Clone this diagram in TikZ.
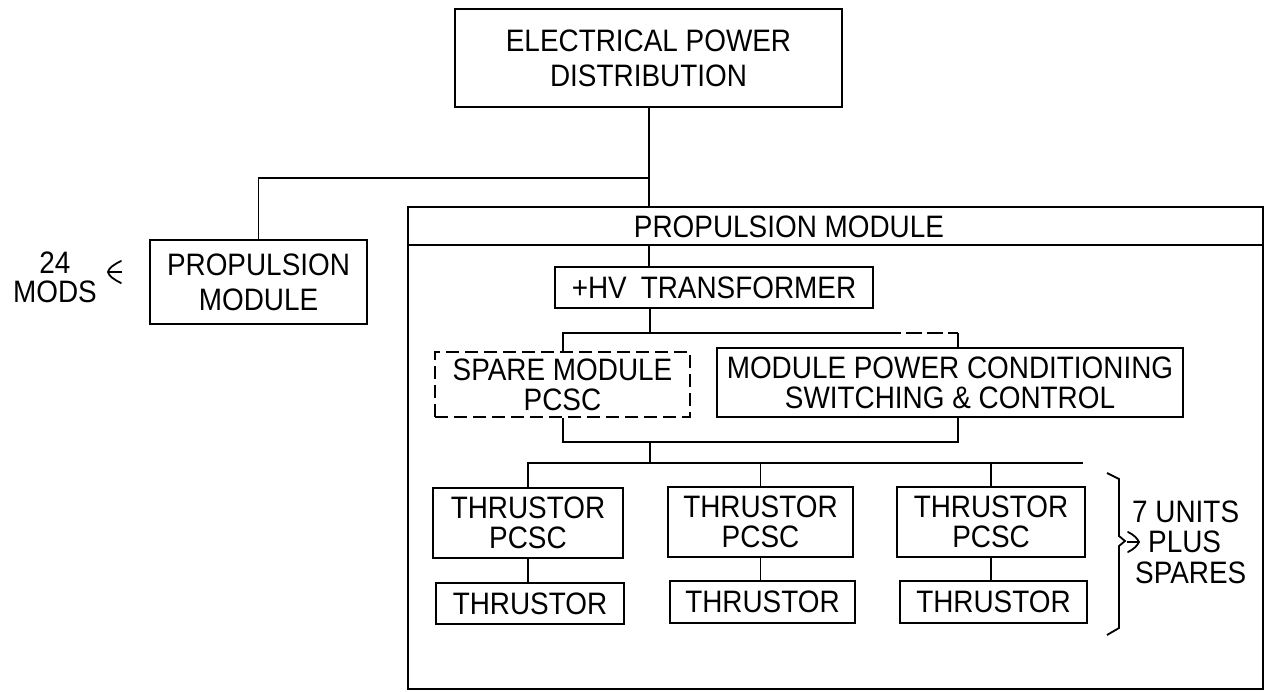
\documentclass[tikz,border=0pt]{standalone}
\usepackage{fontspec}
\setmainfont[FakeStretch=0.9]{Liberation Sans}
\usetikzlibrary{arrows.meta}
\newcommand\lbl{\fontsize{31}{34}\selectfont}
\begin{document}
\begin{tikzpicture}[x=1pt,y=-1pt,
  ln/.style={line width=1.8pt},
  blk/.style={draw, line width=1.8pt, align=center, inner sep=0pt, font=\lbl},
  txt/.style={align=center, inner sep=0pt, font=\lbl},
  barb/.style={line width=1.8pt, line cap=round}
]
\useasboundingbox (0,0) rectangle (1264,691);

% top
\node[blk, minimum width=387, minimum height=98] (epd) at (648.5,58) {ELECTRICAL POWER\\[1pt]DISTRIBUTION};

% left module
\node[blk, minimum width=217, minimum height=84] (pms) at (258.5,282) {PROPULSION\\[1pt]MODULE};
\node[txt] (mods) at (55,277) {24\\[-5pt]MODS};
\coordinate (ma) at (122,272);
\coordinate (mb) at (108,272);
\draw[ln] (ma) -- (mb);
\draw[barb] (121,261) .. controls (113,265) and (109,268) .. (mb) .. controls (109,276) and (113,279) .. (121,283);

% big module
\node[draw, line width=1.8pt, minimum width=855, minimum height=482, inner sep=0pt] (big) at (835.5,448) {};
\node[draw, line width=1.8pt, minimum width=855, minimum height=38, inner sep=0pt] (band) at (835.5,226) {};
\node[txt] (bigt) at (789,227) {PROPULSION MODULE};

\node[blk, minimum width=318, minimum height=41] (hv) at (714,287.5) {+HV\hspace{0.45em}TRANSFORMER};
\node[blk, dash pattern=on 13pt off 6pt, minimum width=255, minimum height=65] (spare) at (562.5,384.5) {SPARE MODULE\\[-4pt]PCSC};
\node[blk, minimum width=466, minimum height=69] (mpc) at (950,382.5) {MODULE POWER CONDITIONING\\[-4pt]SWITCHING \& CONTROL};

\node[blk, minimum width=190, minimum height=70] (tp1) at (528,523) {THRUSTOR\\[-4pt]PCSC};
\node[blk, minimum width=185, minimum height=70] (tp2) at (760.5,522) {THRUSTOR\\[-4pt]PCSC};
\node[blk, minimum width=188, minimum height=70] (tp3) at (991,522) {THRUSTOR\\[-4pt]PCSC};
\node[blk, minimum width=188, minimum height=41] (th1) at (530,603.5) {THRUSTOR};
\node[blk, minimum width=185, minimum height=42] (th2) at (762.5,602) {THRUSTOR};
\node[blk, minimum width=187, minimum height=42] (th3) at (993.5,602) {THRUSTOR};

% junction coordinates
\coordinate (mx) at (649,0);
\coordinate (j1) at (649,178);
\coordinate (j2) at (650,333);
\coordinate (j2l) at (563,333);
\coordinate (j2d) at (885,333);
\coordinate (j2r) at (958,333);
\coordinate (j3) at (650,442);
\coordinate (j3l) at (563,442);
\coordinate (j3r) at (958,442);
\coordinate (j4) at (650,463);
\coordinate (j4e) at (1083,463);

% connectors
\draw[ln] (epd.south -| mx) -- (band.north -| mx);
\draw[ln] (pms.north) |- (j1);
\draw[ln] (band.south -| mx) -- (hv.north -| mx);
\draw[ln] (hv.south -| j2) -- (j2);
\draw[ln] (spare.north -| j2l) |- (j2d);
\draw[ln, dash pattern=on 16pt off 5pt] (j2d) -- (j2r);
\draw[ln] (j2r) -- (mpc.north -| j2r);
\draw[ln] (spare.south -| j3l) |- (j3r) -- (mpc.south -| j3r);
\draw[ln] (j3) -- (j4);
\draw[ln] (tp1.north) |- (j4e);
\draw[ln] (tp2.north) -- (tp2.north |- j4e);
\draw[ln] (tp3.north) -- (tp3.north |- j4e);
\draw[ln] (tp1.south) -- (tp1.south |- th1.north);
\draw[ln] (tp2.south) -- (tp2.south |- th2.north);
\draw[ln] (tp3.south) -- (tp3.south |- th3.north);

% brace and note
\draw[ln, line join=miter] (1107,473) -- (1119,479) -- (1119,536) -- (1125,541) -- (1119,546) -- (1119,628) -- (1107,635);
\coordinate (ra) at (1127,542);
\coordinate (rb) at (1139,542);
\draw[ln] (ra) -- (rb);
\draw[barb] (1128,532) .. controls (1134,535) and (1137,538) .. (rb) .. controls (1137,546) and (1134,549) .. (1128,552);
\node[txt, anchor=west] (u7) at (1132,512) {7 UNITS};
\node[txt, anchor=west] (plus) at (1148,542) {PLUS};
\node[txt, anchor=west] (spr) at (1135,573) {SPARES};
\end{tikzpicture}
\end{document}
